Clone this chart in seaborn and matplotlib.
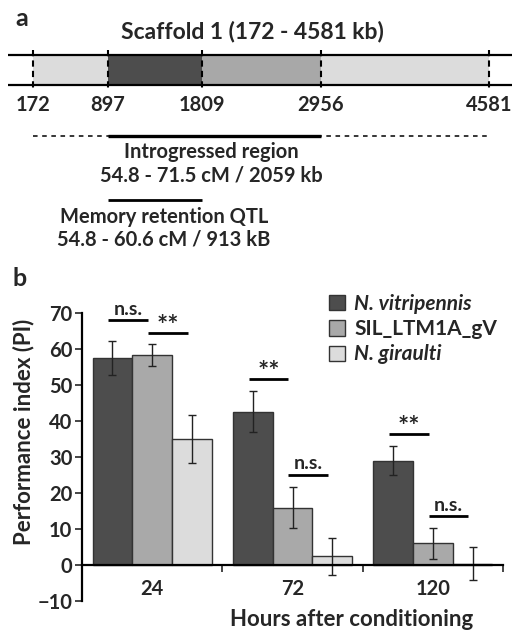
import matplotlib
matplotlib.use("Agg")
import matplotlib.pyplot as plt
import seaborn as sns
import pandas as pd

# ---- panel a: scaffold map ----
boundaries_kb = [172, 897, 1809, 2956, 4581]
segment_colors = ["#dcdcdc", "#4d4d4d", "#a8a8a8", "#dcdcdc"]
introgressed_kb = [897, 2956]
qtl_kb = [897, 1809]

# ---- panel b: performance index ----
hours = ["24", "72", "120"]
strains = ["N. vitripennis", "SIL_LTM1A_gV", "N. giraulti"]
pi_vitripennis = [57.6, 42.6, 29.0]
pi_sil = [58.4, 15.9, 6.0]
pi_giraulti = [35.1, 2.4, 0.4]
sem_vitripennis = [4.7, 5.7, 4.0]
sem_sil = [3.0, 5.7, 4.3]
sem_giraulti = [6.7, 5.2, 4.6]
strain_colors = ["#4d4d4d", "#a9a9a9", "#dcdcdc"]
# (hour index, left strain, right strain, bar height, label)
comparisons = [
    (0, 0, 1, 68.0, "n.s."), (0, 1, 2, 64.5, "**"),
    (1, 0, 1, 51.8, "**"), (1, 1, 2, 25.1, "n.s."),
    (2, 0, 1, 36.5, "**"), (2, 1, 2, 13.7, "n.s."),
]

sns.set_theme(style="ticks")
plt.rcParams["font.family"] = ["Lato", "DejaVu Sans"]
plt.rcParams["font.weight"] = "bold"

W, H = 515, 630
fig = plt.figure(figsize=(W / 100, H / 100), dpi=100)


def ftext(x, y, s, **kw):
    fig.text(x / W, 1 - y / H, s, **kw)


# panel a axes: x in kb, y in pixels from the top of the figure
px_per_kb = (489 - 33) / (4581 - 172)
ax_a = fig.add_axes([0, 1 - 280 / H, 1, 280 / H])
ax_a.set_xlim(172 - 33 / px_per_kb, 4581 + (W - 489) / px_per_kb)
ax_a.set_ylim(280, 0)
ax_a.axis("off")

for i, c in enumerate(segment_colors):
    ax_a.barh(70, boundaries_kb[i + 1] - boundaries_kb[i], left=boundaries_kb[i],
              height=30, color=c, edgecolor="none")
for yy in (55, 85):
    ax_a.plot([0.016, 0.994], [1 - yy / 280] * 2, color="black", lw=1.6,
              transform=ax_a.transAxes, solid_capstyle="butt")
for b in boundaries_kb:
    ax_a.plot([b, b], [50, 90], color="black", lw=1.5, ls=(0, (3, 2)))
    ax_a.text(b, 105, f"{b}", ha="center", va="center", fontsize=14.5)

ax_a.plot([boundaries_kb[0], boundaries_kb[-1]], [136, 136], color="black",
          lw=1.1, ls=(0, (3, 3)))
ax_a.plot(introgressed_kb, [136, 136], color="black", lw=2.4, solid_capstyle="butt")
ax_a.plot(qtl_kb, [200, 200], color="black", lw=2.0, solid_capstyle="butt")

ftext(22, 19, "a", fontsize=18, ha="center", va="center")
ftext(252, 31, "Scaffold 1 (172 - 4581 kb)", fontsize=16.5, ha="center", va="center")
ftext(211, 152, "Introgressed region", fontsize=14.5, ha="center", va="center")
ftext(211, 175, "54.8 - 71.5 cM / 2059 kb", fontsize=14.5, ha="center", va="center")
ftext(164, 217, "Memory retention QTL", fontsize=14.5, ha="center", va="center")
ftext(164, 240, "54.8 - 60.6 cM / 913 kB", fontsize=14.5, ha="center", va="center")
ftext(20, 279, "b", fontsize=18, ha="center", va="center")

# panel b axes
ax = fig.add_axes([82 / W, 1 - 601 / H, (503 - 82) / W, (601 - 313) / H])
df = pd.DataFrame({
    "hours": hours * 3,
    "strain": [s for s in strains for _ in hours],
    "pi": pi_vitripennis + pi_sil + pi_giraulti,
    "sem": sem_vitripennis + sem_sil + sem_giraulti,
})
sns.barplot(data=df, x="hours", y="pi", hue="strain", order=hours,
            hue_order=strains, palette=strain_colors, width=0.85,
            errorbar=None, edgecolor="#333333", linewidth=1.0, ax=ax,
            legend=True)

bar_containers = list(ax.containers)
centers = {}
for h, cont in enumerate(bar_containers):
    for g, bar in enumerate(cont):
        x = bar.get_x() + bar.get_width() / 2
        centers[(g, h)] = x
        sub = df[(df.strain == strains[h]) & (df.hours == hours[g])]
        ax.errorbar(x, bar.get_height(), yerr=sub["sem"].iloc[0], fmt="none",
                    ecolor="#222222", elinewidth=1.0, capsize=3, capthick=1.0,
                    clip_on=False)

for g, i, j, y, lab in comparisons:
    x0, x1 = centers[(g, i)] - 0.03, centers[(g, j)] - 0.03
    ax.plot([x0, x1], [y, y], color="black", lw=2.0, clip_on=False,
            solid_capstyle="butt")
    if lab == "**":
        ax.text((x0 + x1) / 2, y - 1.4, lab, ha="center", va="bottom",
                fontsize=19, clip_on=False)
    else:
        ax.text((x0 + x1) / 2, y + 0.6, lab, ha="center", va="bottom",
                fontsize=14, clip_on=False)

ax.set_xlim(-0.5, 2.5)
ax.set_ylim(-10, 70)
ax.set_yticks(range(-10, 71, 10))
ax.set_ylabel("")
ax.set_xlabel("")
ax.spines["top"].set_visible(False)
ax.spines["right"].set_visible(False)
ax.spines["bottom"].set_position(("data", 0))
for s in ("left", "bottom"):
    ax.spines[s].set_linewidth(1.6)
    ax.spines[s].set_color("black")
ax.set_xticks([0.5, 1.5, 2.5], minor=True)
ax.tick_params(axis="x", which="major", length=0, pad=10, labelsize=14.5)
ax.tick_params(axis="x", which="minor", length=5, width=1.2, direction="out")
ax.tick_params(axis="y", length=5, width=1.2, labelsize=14.5, pad=2)
for t in ax.get_xticklabels() + ax.get_yticklabels():
    t.set_fontweight("bold")

fig.text(24 / W, 1 - 432 / H, "Performance index (PI)", rotation=90,
         fontsize=16, ha="center", va="center")
ftext(352, 619, "Hours after conditioning", fontsize=16, ha="center", va="center")

leg = ax.legend(loc="upper left", bbox_to_anchor=(329 / W, 1 - 294 / H),
                bbox_transform=fig.transFigure, frameon=False,
                prop={"size": 15, "weight": "bold"},
                handlelength=0.75, handleheight=0.75, handletextpad=0.45,
                labelspacing=0.25, borderpad=0, borderaxespad=0)
for t in leg.get_texts():
    if t.get_text().startswith("N."):
        t.set_fontstyle("italic")
for p in leg.get_patches():
    p.set_edgecolor("#333333")
    p.set_linewidth(1.0)

fig.savefig("out.png", dpi=100)
